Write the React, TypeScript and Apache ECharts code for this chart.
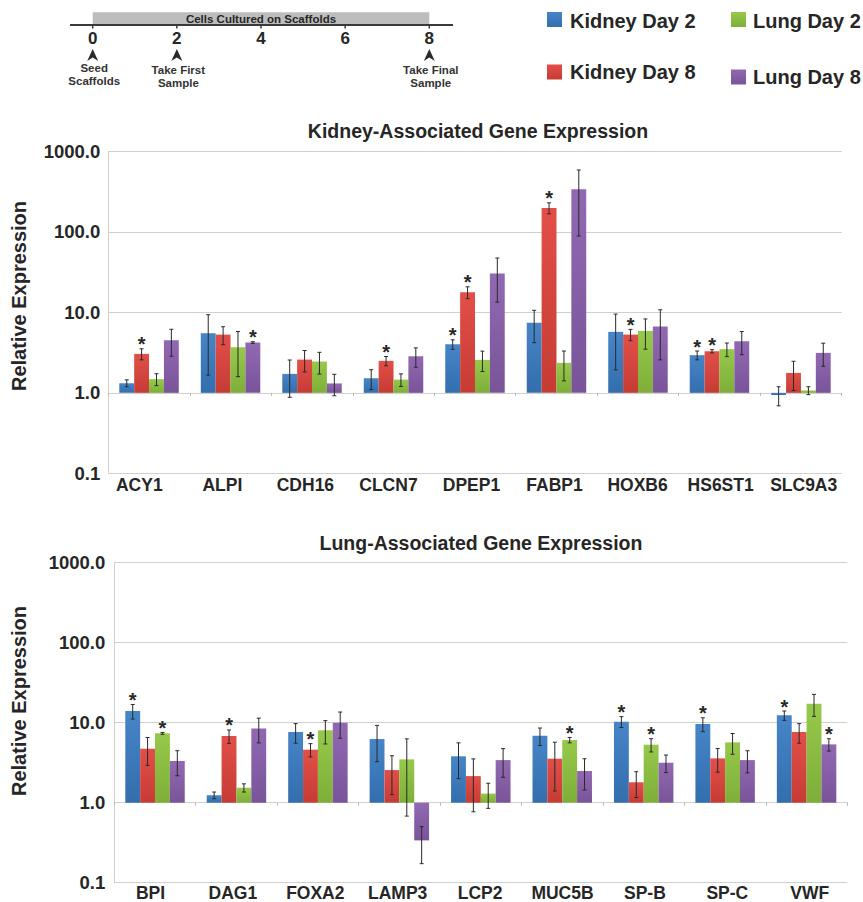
import React, { useEffect, useRef } from "react";
import * as echarts from "echarts";

// ---------- DATA ----------
const kidneyGenes = ["ACY1", "ALPI", "CDH16", "CLCN7", "DPEP1", "FABP1", "HOXB6", "HS6ST1", "SLC9A3"];
const lungGenes = ["BPI", "DAG1", "FOXA2", "LAMP3", "LCP2", "MUC5B", "SP-B", "SP-C", "VWF"];
const seriesNames = ["Kidney Day 2", "Kidney Day 8", "Lung Day 2", "Lung Day 8"];
const seriesColors = ["#3a7dc5", "#e0443c", "#8fc640", "#8a5fae"];
const yTickValues = [0.1, 1, 10, 100, 1000];

// Kidney-associated genes: mean relative expression
const kidneyK2 = [1.32, 5.51, 1.72, 1.52, 4.02, 7.41, 5.73, 2.94, 0.94];
const kidneyK8 = [3.05, 5.3, 2.59, 2.5, 17.8, 199, 5.3, 3.29, 1.77];
const kidneyL2 = [1.48, 3.69, 2.45, 1.46, 2.57, 2.36, 5.89, 3.49, 1.07];
const kidneyL8 = [4.51, 4.22, 1.31, 2.85, 30.4, 339, 6.67, 4.38, 3.14];
// Kidney-associated genes: error (±)
const kidneyK2Err = [0.13, 3.85, 0.84, 0.42, 0.54, 3.2, 3.8, 0.37, 0.25];
const kidneyK8Err = [0.48, 1.33, 0.77, 0.33, 3.0, 31, 0.85, 0.15, 0.7];
const kidneyL2Err = [0.25, 2.1, 0.74, 0.26, 0.73, 0.95, 2.4, 0.67, 0.12];
const kidneyL8Err = [1.66, 0.1, 0.39, 0.77, 17, 250, 4.1, 1.4, 1.0];
// Kidney-associated genes: significance (*)
const kidneyK2Sig = [0, 0, 0, 0, 1, 0, 0, 1, 0];
const kidneyK8Sig = [1, 0, 0, 1, 1, 1, 1, 1, 0];
const kidneyL2Sig = [0, 0, 0, 0, 0, 0, 0, 0, 0];
const kidneyL8Sig = [0, 1, 0, 0, 0, 0, 0, 0, 0];

// Lung-associated genes: mean relative expression
const lungK2 = [14.0, 1.24, 7.64, 6.25, 3.8, 6.88, 10.3, 9.62, 12.35];
const lungK8 = [4.73, 6.81, 4.6, 2.56, 2.15, 3.55, 1.8, 3.58, 7.64];
const lungL2 = [7.36, 1.54, 8.02, 3.48, 1.3, 6.07, 5.31, 5.68, 17.3];
const lungL8 = [3.32, 8.49, 10.0, 0.338, 3.41, 2.49, 3.16, 3.41, 5.36];
// Lung-associated genes: error (±)
const lungK2Err = [2.9, 0.12, 2.1, 3.0, 1.8, 1.7, 1.6, 1.9, 1.65];
const lungK8Err = [1.8, 1.3, 0.87, 1.3, 1.38, 2.15, 0.64, 1.17, 2.1];
const lungL2Err = [0.2, 0.18, 2.6, 2.8, 0.45, 0.47, 1.0, 1.65, 5.3];
const lungL8Err = [1.15, 2.9, 3.6, 0.165, 1.33, 1.05, 0.78, 1.05, 0.94];
// Lung-associated genes: significance (*)
const lungK2Sig = [1, 0, 0, 0, 0, 0, 1, 1, 1];
const lungK8Sig = [0, 1, 1, 0, 0, 0, 0, 0, 0];
const lungL2Sig = [1, 0, 0, 0, 0, 1, 1, 0, 0];
const lungL8Sig = [0, 0, 0, 0, 0, 0, 0, 0, 1];

// Timeline
const timelineDays = [0, 2, 4, 6, 8];
const timelineEvents = [
  { day: 0, lines: ["Seed", "Scaffolds"] },
  { day: 2, lines: ["Take First", "Sample"] },
  { day: 8, lines: ["Take Final", "Sample"] },
];
const timelineBarLabel = "Cells Cultured on Scaffolds";
const panelTitles = ["Kidney-Associated Gene Expression", "Lung-Associated Gene Expression"];
const yAxisTitle = "Relative Expression";

// ---------- STYLE ----------
const FONT = '"Liberation Sans", Arial, Helvetica, sans-serif';
const TEXT = "#262626";
const GRID_COLOR = "#d0d0d0";
const GROUP_FRAC = 0.73;

function shade(hex: string, f: number) {
  const n = parseInt(hex.slice(1), 16);
  let r = (n >> 16) & 255, g = (n >> 8) & 255, b = n & 255;
  const adj = (c: number) => Math.max(0, Math.min(255, Math.round(f >= 0 ? c + (255 - c) * f : c * (1 + f))));
  r = adj(r); g = adj(g); b = adj(b);
  return "rgb(" + r + "," + g + "," + b + ")";
}

const panels = [
  {
    genes: kidneyGenes,
    values: [kidneyK2, kidneyK8, kidneyL2, kidneyL8],
    errs: [kidneyK2Err, kidneyK8Err, kidneyL2Err, kidneyL8Err],
    sigs: [kidneyK2Sig, kidneyK8Sig, kidneyL2Sig, kidneyL8Sig],
  },
  {
    genes: lungGenes,
    values: [lungK2, lungK8, lungL2, lungL8],
    errs: [lungK2Err, lungK8Err, lungL2Err, lungL8Err],
    sigs: [lungK2Sig, lungK8Sig, lungL2Sig, lungL8Sig],
  },
];

function buildOption() {
  const L10 = Math.log10;
  const grids = [
    { left: 108.3, right: 21.3, top: 151.5, height: 321.8 },
    { left: 114.3, right: 15.7, top: 562.7, height: 320 },
    // label-only grids (category labels spacing)
    { left: 97.8, right: 17.8, top: 151.5, height: 321.8 },
    { left: 109.3, right: 12.1, top: 562.7, height: 320 },
  ];

  const xAxes: any[] = [];
  const yAxes: any[] = [];
  panels.forEach((p, pi) => {
    xAxes.push({
      type: "category",
      gridIndex: pi,
      data: p.genes,
      boundaryGap: true,
      axisLine: { show: true, onZero: true, lineStyle: { color: GRID_COLOR, width: 1 } },
      axisTick: { show: true, length: 3, lineStyle: { color: "#b8b8b8" } },
      axisLabel: { show: false },
      splitLine: { show: false },
    });
    yAxes.push({
      type: "value",
      gridIndex: pi,
      min: L10(yTickValues[0]),
      max: L10(yTickValues[yTickValues.length - 1]),
      interval: 1,
      axisLine: { show: true, lineStyle: { color: GRID_COLOR, width: 1 } },
      axisTick: { show: false },
      splitLine: { show: true, lineStyle: { color: GRID_COLOR, width: 1 } },
      axisLabel: {
        formatter: (v: number) => Math.pow(10, v).toFixed(1),
        fontSize: 18.5,
        fontWeight: "bold",
        fontFamily: FONT,
        color: TEXT,
        margin: pi === 0 ? 8 : 9,
      },
    });
  });
  panels.forEach((p, pi) => {
    xAxes.push({
      type: "category",
      gridIndex: pi + 2,
      data: p.genes,
      axisLine: { show: false },
      axisTick: { show: false },
      axisLabel: {
        interval: 0,
        fontSize: 17.5,
        fontWeight: "bold",
        fontFamily: FONT,
        color: TEXT,
        margin: pi === 0 ? 3 : 2,
      },
    });
    yAxes.push({ type: "value", gridIndex: pi + 2, show: false, min: 0, max: 1 });
  });

  const series: any[] = [];
  panels.forEach((p, pi) => {
    for (let j = 0; j < 4; j++) {
      const color = seriesColors[j];
      const fill = new echarts.graphic.LinearGradient(0, 0, 0, 1, [
        { offset: 0, color: shade(color, 0.06) },
        { offset: 1, color: shade(color, -0.12) },
      ]);
      const data = p.values[j].map((v, i) => {
        const e = p.errs[j][i];
        return [i, L10(v), L10(v + e), L10(Math.max(v - e, 0.0105)), p.sigs[j][i]];
      });
      series.push({
        type: "custom",
        name: seriesNames[j],
        xAxisIndex: pi,
        yAxisIndex: pi,
        data,
        encode: { x: 0, y: [1, 2, 3] },
        renderItem: (params: any, api: any) => {
          const ci = api.value(0);
          const band = api.size([1, 0])[0];
          const bw = (band * GROUP_FRAC) / 4;
          const base = api.coord([ci, 0]);
          const top = api.coord([ci, api.value(1)]);
          const hi = api.coord([ci, api.value(2)]);
          const lo = api.coord([ci, api.value(3)]);
          const x0 = base[0] - 2 * bw + j * bw;
          const cx = x0 + bw / 2;
          const y0 = Math.min(base[1], top[1]);
          const h = Math.abs(base[1] - top[1]);
          const children: any[] = [
            { type: "rect", shape: { x: x0, y: y0, width: bw, height: h }, style: { fill } },
            { type: "line", shape: { x1: cx, y1: hi[1], x2: cx, y2: lo[1] }, style: { stroke: "#2a2a2a", lineWidth: 1 } },
            { type: "line", shape: { x1: cx - 2, y1: hi[1], x2: cx + 2, y2: hi[1] }, style: { stroke: "#2a2a2a", lineWidth: 1 } },
            { type: "line", shape: { x1: cx - 2, y1: lo[1], x2: cx + 2, y2: lo[1] }, style: { stroke: "#2a2a2a", lineWidth: 1 } },
          ];
          if (api.value(4)) {
            children.push({
              type: "text",
              style: {
                text: "*",
                x: cx,
                y: hi[1] - 4.5,
                fill: TEXT,
                fontSize: 20,
                fontWeight: "bold",
                fontFamily: FONT,
                align: "center",
                verticalAlign: "middle",
                textAlign: "center",
                textVerticalAlign: "middle",
              },
            });
          }
          return { type: "group", children };
        },
      });
    }
  });

  // ---------- graphic: timeline, legend, titles, y-axis names ----------
  const g: any[] = [];
  const tlX0 = 92.7, tlX8 = 429.3;
  const dayX = (d: number) => tlX0 + (d * (tlX8 - tlX0)) / 8;
  g.push({ type: "rect", shape: { x: tlX0, y: 12.3, width: tlX8 - tlX0, height: 12.4 }, style: { fill: "#bdbdbd" } });
  g.push({ type: "line", shape: { x1: 70, y1: 25, x2: 453, y2: 25 }, style: { stroke: "#3a3a3a", lineWidth: 2 } });
  g.push({
    type: "text",
    style: { text: timelineBarLabel, x: (tlX0 + tlX8) / 2, y: 18.8, fill: TEXT, fontSize: 11.5, fontWeight: "bold", fontFamily: FONT, align: "center", verticalAlign: "middle", textAlign: "center", textVerticalAlign: "middle" },
  });
  timelineDays.forEach((d) => {
    g.push({ type: "line", shape: { x1: dayX(d), y1: 25, x2: dayX(d), y2: 28.5 }, style: { stroke: "#3a3a3a", lineWidth: 1.5 } });
    g.push({
      type: "text",
      style: { text: String(d), x: dayX(d), y: 38.7, fill: TEXT, fontSize: 17, fontWeight: "bold", fontFamily: FONT, align: "center", verticalAlign: "middle", textAlign: "center", textVerticalAlign: "middle" },
    });
  });
  timelineEvents.forEach((ev) => {
    const x = dayX(ev.day);
    g.push({
      type: "polygon",
      shape: { points: [[x, 49], [x + 5.5, 61], [x, 57.5], [x - 5.5, 61]] },
      style: { fill: "#2a2a2a" },
    });
    ev.lines.forEach((ln, k) => {
      g.push({
        type: "text",
        style: { text: ln, x: x + 1.5, y: (ev.day === 0 ? 68 : 70) + k * 12.8, fill: "#333", fontSize: 11.5, fontWeight: "bold", fontFamily: FONT, align: "center", verticalAlign: "middle", textAlign: "center", textVerticalAlign: "middle" },
      });
    });
  });

  // Legend (2 x 2)
  const legendPos = [
    { ix: 547, iy: 12, tx: 570, ty: 20.7 },
    { ix: 547, iy: 64.5, tx: 570, ty: 72 },
    { ix: 731, iy: 12, tx: 753, ty: 20.7 },
    { ix: 731, iy: 69.5, tx: 753, ty: 77 },
  ];
  seriesNames.forEach((nm, j) => {
    const lp = legendPos[j];
    g.push({
      type: "rect",
      shape: { x: lp.ix, y: lp.iy, width: 15, height: 15 },
      style: {
        fill: new echarts.graphic.LinearGradient(0, 0, 0, 1, [
          { offset: 0, color: shade(seriesColors[j], 0.06) },
          { offset: 1, color: shade(seriesColors[j], -0.12) },
        ]),
      },
    });
    g.push({
      type: "text",
      style: { text: nm, x: lp.tx, y: lp.ty, fill: TEXT, fontSize: 20, fontWeight: "bold", fontFamily: FONT, align: "left", verticalAlign: "middle", textAlign: "left", textVerticalAlign: "middle" },
    });
  });

  // Panel titles
  const titlePos = [
    { x: 478, y: 131 },
    { x: 481, y: 543 },
  ];
  panelTitles.forEach((t, i) => {
    g.push({
      type: "text",
      style: { text: t, x: titlePos[i].x, y: titlePos[i].y, fill: TEXT, fontSize: 19.5, fontWeight: "bold", fontFamily: FONT, align: "center", verticalAlign: "middle", textAlign: "center", textVerticalAlign: "middle" },
    });
  });

  // Y-axis names
  const yNamePos = [
    { x: 19, y: 296 },
    { x: 19, y: 701 },
  ];
  yNamePos.forEach((p) => {
    g.push({
      type: "text",
      x: p.x,
      y: p.y,
      rotation: Math.PI / 2,
      style: { text: yAxisTitle, x: 0, y: 0, fill: TEXT, fontSize: 20, fontWeight: "bold", fontFamily: FONT, align: "center", verticalAlign: "middle", textAlign: "center", textVerticalAlign: "middle" },
    });
  });

  return {
    animation: false,
    backgroundColor: "#ffffff",
    grid: grids,
    xAxis: xAxes,
    yAxis: yAxes,
    series,
    graphic: g,
  };
}

export default function App() {
  const ref = useRef<HTMLDivElement>(null);
  useEffect(() => {
    if (!ref.current) return;
    const chart = echarts.init(ref.current, undefined, { renderer: "svg" });
    chart.setOption(buildOption() as any);
    return () => chart.dispose();
  }, []);
  return (
    <div
      ref={ref}
      style={{ position: "absolute", left: 0, top: 0, width: 863, height: 902, background: "#fff" }}
    />
  );
}
